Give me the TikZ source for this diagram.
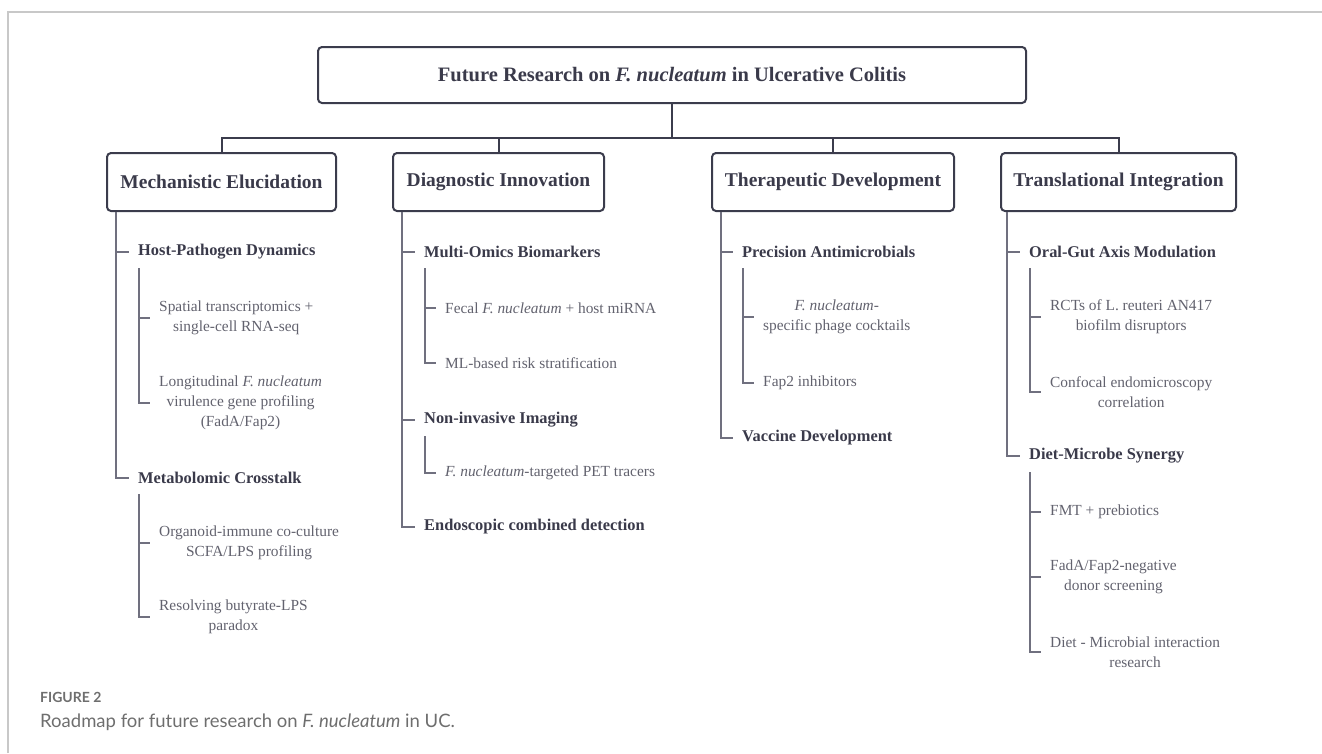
\documentclass[tikz,border=0pt]{standalone}
\usepackage{fontspec}
\setmainfont{Liberation Serif}
\newfontfamily\capfont{Lato}
\definecolor{boxline}{HTML}{3B3C4C}
\definecolor{headtext}{HTML}{3A3A4A}
\definecolor{leaftext}{HTML}{62626E}
\definecolor{treeline}{HTML}{70707F}
\definecolor{framegray}{HTML}{C8C8C8}
\definecolor{capgray}{HTML}{6E6E6E}

\begin{document}
\begin{tikzpicture}[x=1pt,y=-1pt,
    titlebox/.style={draw=boxline,line width=2pt,rounded corners=4pt,minimum height=56pt,
      text=headtext,font=\fontsize{20.5}{24}\selectfont\bfseries},
    headbox/.style={draw=boxline,line width=2pt,rounded corners=4pt,minimum height=58pt,
      text=headtext,font=\fontsize{19.5}{23}\selectfont\bfseries},
    subhead/.style={anchor=west,inner xsep=9pt,inner ysep=2pt,text=headtext,
      font=\fontsize{16.4}{19}\selectfont\bfseries},
    leaf/.style={anchor=west,inner xsep=9pt,inner ysep=2pt,align=center,text=leaftext,
      font=\fontsize{15.4}{20}\selectfont},
    branch/.style={draw=boxline,line width=2pt},
    link/.style={draw=treeline,line width=1.5pt}]
        \useasboundingbox (0,0) rectangle (1322,753);
        \draw[framegray,line width=1.5pt] (8,753) -- (8,12) -- (1322,12);

        % top of the roadmap
        \node[titlebox,minimum width=708pt] (title) at (672,75)
            {Future Research on \textit{F. nucleatum} in Ulcerative Colitis};
        \node[headbox,minimum width=229pt] (h1) at (221.5,182) {Mechanistic Elucidation};
        \node[headbox,minimum width=211pt] (h2) at (498.5,182) {Diagnostic Innovation};
        \node[headbox,minimum width=242pt] (h3) at (833,182) {Therapeutic Development};
        \node[headbox,minimum width=235pt] (h4) at (1118.5,182) {Translational Integration};
        \foreach \h in {h1,h2,h3,h4}
            \draw[branch] (title.south) -- ++(0,34) -| (\h.north);

        % mechanistic elucidation
        \node[subhead] (s11) at (129,252) {Host-Pathogen Dynamics};
        \node[leaf] (l111) at (150,318) {Spatial transcriptomics +\\single-cell RNA-seq};
        \node[leaf] (l112) at (150,403) {Longitudinal \textit{F. nucleatum}\\virulence gene profiling\\(FadA/Fap2)};
        \node[subhead] (s12) at (129,478) {Metabolomic Crosstalk};
        \node[leaf] (l121) at (150,543) {Organoid-immune co-culture\\SCFA/LPS profiling};
        \node[leaf] (l122) at (150,617) {Resolving butyrate-LPS\\paradox};
        \draw[link] ([xshift=10pt]h1.south west) |- (s11.west);
        \draw[link] ([xshift=10pt]h1.south west) |- (s12.west);
        \draw[link] ([shift={(10,16)}]s11.west) |- (l111.west);
        \draw[link] ([shift={(10,16)}]s11.west) |- (l112.west);
        \draw[link] ([shift={(10,16)}]s12.west) |- (l121.west);
        \draw[link] ([shift={(10,16)}]s12.west) |- (l122.west);

        % diagnostic innovation
        \node[subhead] (s21) at (415,252) {Multi-Omics Biomarkers};
        \node[leaf] (l211) at (436,308) {Fecal \textit{F. nucleatum} + host miRNA};
        \node[leaf] (l212) at (436,363) {ML-based risk stratification};
        \node[subhead] (s22) at (415,420) {Non-invasive Imaging};
        \node[leaf] (l221) at (436,473) {\textit{F. nucleatum}-targeted PET tracers};
        \node[subhead] (s23) at (415,527) {Endoscopic combined detection};
        \foreach \s in {s21,s22,s23}
            \draw[link] ([xshift=10pt]h2.south west) |- (\s.west);
        \draw[link] ([shift={(10,16)}]s21.west) |- (l211.west);
        \draw[link] ([shift={(10,16)}]s21.west) |- (l212.west);
        \draw[link] ([shift={(10,16)}]s22.west) |- (l221.west);

        % therapeutic development
        \node[subhead] (s31) at (733,252) {Precision Antimicrobials};
        \node[leaf] (l311) at (754,317) {\textit{F. nucleatum}-\\specific phage cocktails};
        \node[leaf] (l312) at (754,383) {Fap2 inhibitors};
        \node[subhead] (s32) at (733,438) {Vaccine Development};
        \draw[link] ([xshift=10pt]h3.south west) |- (s31.west);
        \draw[link] ([xshift=10pt]h3.south west) |- (s32.west);
        \draw[link] ([shift={(10,16)}]s31.west) |- (l311.west);
        \draw[link] ([shift={(10,16)}]s31.west) |- (l312.west);

        % translational integration
        \node[subhead] (s41) at (1020,252) {Oral-Gut Axis Modulation};
        \node[leaf] (l411) at (1041,317) {RCTs of L. reuteri AN417\\biofilm disruptors};
        \node[leaf] (l412) at (1041,392) {Confocal endomicroscopy\\correlation};
        \node[subhead] (s42) at (1020,456) {Diet-Microbe Synergy};
        \node[leaf] (l421) at (1041,512) {FMT + prebiotics};
        \node[leaf] (l422) at (1041,577) {FadA/Fap2-negative\\donor screening};
        \node[leaf] (l423) at (1041,652) {Diet - Microbial interaction\\research};
        \draw[link] ([xshift=7pt]h4.south west) |- (s41.west);
        \draw[link] ([xshift=7pt]h4.south west) |- (s42.west);
        \foreach \l in {l411,l412}
            \draw[link] ([shift={(10,16)}]s41.west) |- (\l.west);
        \foreach \l in {l421,l422,l423}
            \draw[link] ([shift={(10,16)}]s42.west) |- (\l.west);

        % caption
        \node[anchor=west,inner sep=0pt,text=capgray,font=\capfont\bfseries\fontsize{14}{16}\selectfont] (fig) at (40,697) {FIGURE 2};
        \node[anchor=west,inner sep=0pt,text=capgray,font=\capfont\fontsize{18.5}{21}\selectfont] (cap) at (40,722)
            {Roadmap for future research on \textit{F. nucleatum} in UC.};
\end{tikzpicture}
\end{document}
